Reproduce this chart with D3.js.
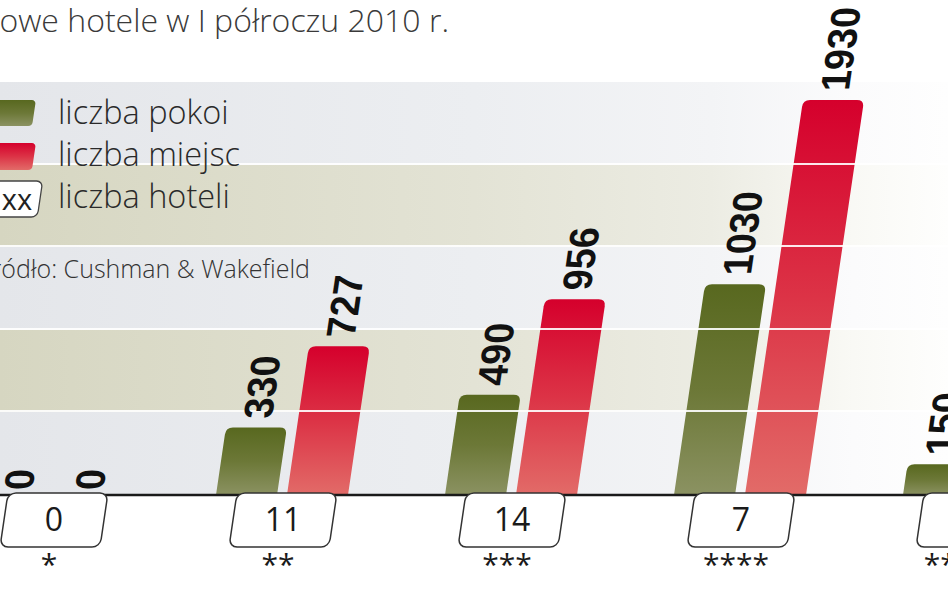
<!DOCTYPE html>
<html><head><meta charset="utf-8">
<script src="https://cdn.jsdelivr.net/npm/d3@7"></script>
<style>
html,body{margin:0;padding:0;background:#fff;overflow:hidden}
svg{display:block}
</style></head>
<body>
<script>
const categories = ["*", "**", "***", "****", "*****"];
const pokoi = [0, 330, 490, 1030, 150];
const miejsc = [0, 727, 956, 1930, null];
const hotele = [0, 11, 14, 7, null];
const seriesKeys = ["pokoi", "miejsc"];
const seriesLabels = ["liczba pokoi", "liczba miejsc", "liczba hoteli"];
const title = "Nowe hotele w I półroczu 2010 r.";
const source = "Źródło: Cushman & Wakefield";

const W = 948, H = 593;
const base = 495;
const slope = 0.147;
const skewDeg = -Math.atan(slope) * 180 / Math.PI;
const sans = "Open Sans, sans-serif";

const svg = d3.select("body").append("svg").attr("width", W).attr("height", H);
const defs = svg.append("defs");

function hgrad(id, stops) {
  const g = defs.append("linearGradient").attr("id", id).attr("x1", 0).attr("x2", 1).attr("y1", 0).attr("y2", 0);
  stops.forEach(s => g.append("stop").attr("offset", s[0]).attr("stop-color", s[1]));
}
function vgrad(id, stops) {
  const g = defs.append("linearGradient").attr("id", id).attr("x1", 0).attr("x2", 0).attr("y1", 0).attr("y2", 1);
  stops.forEach(s => g.append("stop").attr("offset", s[0]).attr("stop-color", s[1]));
}
hgrad("bandGray", [[0, "#e4e6ea"], [0.5, "#eceef1"], [0.75, "#f3f4f6"], [0.9, "#fbfbfc"], [1, "#fefefe"]]);
hgrad("bandKhaki", [[0, "#d6d6c1"], [0.5, "#e3e3d5"], [0.75, "#ececE3"], [0.9, "#f9f9f5"], [1, "#fefefd"]]);
vgrad("gGreen", [[0, "#58681f"], [0.5, "#6c7837"], [1, "#8b9262"]]);
vgrad("gRed", [[0, "#d5002c"], [0.5, "#dc3346"], [1, "#e26b68"]]);

// scales
const y = d3.scaleLinear().domain([0, 1930]).range([base, 100]);
const x0 = d3.scaleBand().domain(categories).range([-61.5, -61.5 + 229 * categories.length]).paddingInner(0).paddingOuter(0);
const x1 = d3.scaleBand().domain(seriesKeys).range([x0.bandwidth() / 2 - 66, x0.bandwidth() / 2 + 66]).paddingInner(0.14).paddingOuter(0);

// background bands
const bandEdges = [82, 165, 247, 330, 412, 495];
const bands = d3.range(5).map(i => ({ y0: bandEdges[i], y1: bandEdges[i + 1], khaki: i % 2 === 1 }));
svg.append("g").selectAll("rect").data(bands).join("rect")
  .attr("x", 0).attr("width", W)
  .attr("y", d => d.y0).attr("height", d => d.y1 - d.y0)
  .attr("fill", d => d.khaki ? "url(#bandKhaki)" : "url(#bandGray)");

function skewAbout(cy) { return `translate(0,${cy}) skewX(${skewDeg}) translate(0,${-cy})`; }

// bars (skewed group)
const barData = [];
categories.forEach((c, i) => {
  barData.push({ cat: c, key: "pokoi", v: pokoi[i] });
  if (miejsc[i] !== null) barData.push({ cat: c, key: "miejsc", v: miejsc[i] });
});
function barPath(x, w, top, bottom, r) {
  const h = bottom - top;
  if (h <= 0) return "";
  r = Math.min(r, h, w / 2);
  return `M${x},${bottom}V${top + r}Q${x},${top} ${x + r},${top}H${x + w - r}Q${x + w},${top} ${x + w},${top + r}V${bottom}Z`;
}
const bg = svg.append("g").attr("transform", skewAbout(base));
bg.selectAll("path").data(barData).join("path")
  .attr("d", d => barPath(x0(d.cat) + x1(d.key), x1.bandwidth(), y(d.v), base, 7))
  .attr("fill", d => d.key === "pokoi" ? "url(#gGreen)" : "url(#gRed)");

// band separator lines over bars
svg.append("g").selectAll("line").data(bandEdges.slice(1, 5)).join("line")
  .attr("x1", 0).attr("x2", W).attr("y1", d => d - 1).attr("y2", d => d - 1)
  .attr("stroke", "#fff").attr("stroke-width", 1.8).attr("stroke-opacity", 0.9);

// title & source
svg.append("text").attr("x", 449).attr("y", 32).attr("text-anchor", "end")
  .attr("font-family", sans).attr("font-weight", 300).attr("font-size", 32)
  .attr("fill", "#3a3a3a").text(title);
svg.append("text").attr("x", 310).attr("y", 278).attr("text-anchor", "end")
  .attr("font-family", sans).attr("font-weight", 300).attr("font-size", 25)
  .attr("fill", "#333").text(source);

// legend
const lg = svg.append("g");
lg.append("rect").attr("x", -30).attr("y", 100).attr("width", 64).attr("height", 26).attr("rx", 4)
  .attr("fill", "url(#gGreen)").attr("transform", skewAbout(113));
lg.append("rect").attr("x", -30).attr("y", 143).attr("width", 64).attr("height", 27).attr("rx", 4)
  .attr("fill", "url(#gRed)").attr("transform", skewAbout(156));
lg.append("rect").attr("x", -30).attr("y", 181).attr("width", 70).attr("height", 36).attr("rx", 6)
  .attr("fill", "#fff").attr("stroke", "#444").attr("stroke-width", 1.3).attr("transform", skewAbout(199));
lg.append("text").attr("x", 17).attr("y", 210).attr("text-anchor", "middle")
  .attr("font-family", sans).attr("font-size", 29).attr("fill", "#222").text("xx");
lg.selectAll("text.lab").data(seriesLabels).join("text").attr("class", "lab")
  .attr("x", 58).attr("y", (d, i) => [124, 166, 208][i])
  .attr("font-family", sans).attr("font-weight", 300).attr("font-size", 32.5)
  .attr("fill", "#2a2a2a").text(d => d);

// value labels
const lblGroup = svg.append("g").attr("transform", skewAbout(base));
lblGroup.selectAll("text").data(barData).join("text")
  .attr("transform", d => `translate(${x0(d.cat) + x1(d.key) + x1.bandwidth() / 2},${y(d.v) - (d.v === 0 ? 5 : 9)}) rotate(-90)`)
  .attr("dominant-baseline", "central").attr("text-anchor", "start")
  .attr("font-family", "Liberation Sans, Arial, sans-serif")
  .attr("font-weight", 700).attr("font-size", 41)
  .attr("textLength", d => String(d.v).length * 21).attr("lengthAdjust", "spacingAndGlyphs")
  .attr("fill", "#111").text(d => d.v);

// baseline
svg.append("line").attr("x1", 0).attr("x2", W).attr("y1", base).attr("y2", base)
  .attr("stroke", "#1a1a1a").attr("stroke-width", 2.5);

// hotel count boxes
const boxes = svg.append("g");
categories.forEach((c, i) => {
  const cx = x0(c) + x0.bandwidth() / 2 + 1;
  boxes.append("rect").attr("x", cx - 50).attr("y", 493).attr("width", 100).attr("height", 54).attr("rx", 8)
    .attr("fill", "#fff").attr("stroke", "#333").attr("stroke-width", 1.5).attr("transform", skewAbout(520));
  if (hotele[i] !== null) {
    boxes.append("text").attr("x", cx).attr("y", 531).attr("text-anchor", "middle")
      .attr("font-family", sans).attr("font-size", 32).attr("fill", "#1a1a1a").text(hotele[i]);
  }
  boxes.append("text").attr("x", cx - 5).attr("y", 575).attr("text-anchor", "middle")
    .attr("font-family", sans).attr("font-size", 30).attr("fill", "#1a1a1a").text(c);
});
</script>
</body></html>
